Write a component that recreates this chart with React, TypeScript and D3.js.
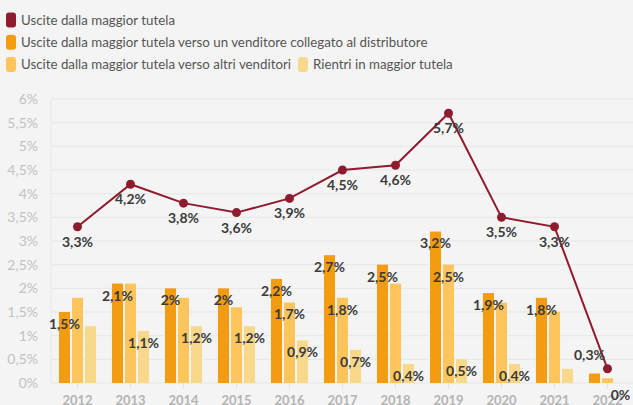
import { useEffect, useRef } from 'react';
import * as d3 from 'd3';

const WIDTH = 633;
const HEIGHT = 405;

const years = ['2012', '2013', '2014', '2015', '2016', '2017', '2018', '2019', '2020', '2021', '2022'];
const usciteTotali = [3.3, 4.2, 3.8, 3.6, 3.9, 4.5, 4.6, 5.7, 3.5, 3.3, 0.3];
const usciteCollegato = [1.5, 2.1, 2.0, 2.0, 2.2, 2.7, 2.5, 3.2, 1.9, 1.8, 0.2];
const usciteAltri = [1.8, 2.1, 1.8, 1.6, 1.7, 1.8, 2.1, 2.5, 1.7, 1.5, 0.1];
const rientri = [1.2, 1.1, 1.2, 1.2, 0.9, 0.7, 0.4, 0.5, 0.4, 0.3, 0];

// which bar values carry a visible label in the original
const labelCollegato = ['2012', '2013', '2014', '2015', '2016', '2017', '2018', '2019', '2020', '2021'];
const labelAltri = ['2016', '2017', '2019'];
const labelRientri = ['2013', '2014', '2015', '2016', '2017', '2018', '2019', '2020', '2022'];

const yTicks = [0, 0.5, 1, 1.5, 2, 2.5, 3, 3.5, 4, 4.5, 5, 5.5, 6];

const legendRows = [
  [{ name: 'Uscite dalla maggior tutela', color: '#8e1c2e' }],
  [{ name: 'Uscite dalla maggior tutela verso un venditore collegato al distributore', color: '#f39c12' }],
  [
    { name: 'Uscite dalla maggior tutela verso altri venditori', color: '#fdc55c' },
    { name: 'Rientri in maggior tutela', color: '#f8d98c' },
  ],
];

const barSeries = [
  { key: 'collegato', values: usciteCollegato, color: '#f39c12', labels: labelCollegato },
  { key: 'altri', values: usciteAltri, color: '#fdc55c', labels: labelAltri },
  { key: 'rientri', values: rientri, color: '#f8d98c', labels: labelRientri },
];

const fmt = (v: number) => `${String(v).replace('.', ',')}%`;

export default function App() {
  const svgRef = useRef<SVGSVGElement>(null);

  useEffect(() => {
    if (!svgRef.current) return;
    const svg = d3.select(svgRef.current);
    svg.selectAll('*').remove();

    const font = "'Lato', sans-serif";

    svg.append('rect').attr('width', WIDTH).attr('height', HEIGHT).attr('fill', '#f4f4f4');

    // legend
    const legend = svg.append('g');
    legendRows.forEach((row, r) => {
      const cy = 20 + r * 22.2;
      let x = 6;
      row.forEach(item => {
        legend.append('rect')
          .attr('x', x).attr('y', cy - 7.5)
          .attr('width', 10).attr('height', 15)
          .attr('rx', 3)
          .attr('fill', item.color);
        const t = legend.append('text')
          .attr('x', x + 15).attr('y', cy)
          .attr('dy', '0.35em')
          .attr('font-family', font)
          .attr('font-size', 13.3)
          .attr('fill', '#555')
          .text(item.name);
        const w = (t.node() as SVGTextElement).getComputedTextLength();
        x = x + 15 + w + 7;
      });
    });

    const x0 = d3.scaleBand<string>().domain(years).range([51, 634]).paddingInner(0.3).paddingOuter(0.15);
    const x1 = d3.scaleBand<string>().domain(barSeries.map(s => s.key)).range([0, x0.bandwidth()]).paddingInner(0.15);
    const y = d3.scaleLinear().domain([0, 6]).range([383, 99]);
    const cx = (yr: string) => (x0(yr) ?? 0) + x0.bandwidth() / 2;

    // grid
    const grid = svg.append('g');
    grid.selectAll('line')
      .data(yTicks)
      .enter()
      .append('line')
      .attr('x1', 51).attr('x2', WIDTH)
      .attr('y1', d => y(d)).attr('y2', d => y(d))
      .attr('stroke', '#e6e6e6')
      .attr('stroke-width', 1);
    grid.append('line')
      .attr('x1', 51).attr('x2', 51)
      .attr('y1', y(6)).attr('y2', y(0))
      .attr('stroke', '#e6e6e6');
    grid.selectAll('.tick')
      .data(years)
      .enter()
      .append('line')
      .attr('x1', d => cx(d)).attr('x2', d => cx(d))
      .attr('y1', y(0)).attr('y2', y(0) + 6)
      .attr('stroke', '#e2e2e2');

    // y labels
    svg.append('g')
      .selectAll('text')
      .data(yTicks)
      .enter()
      .append('text')
      .attr('x', 38)
      .attr('y', d => y(d))
      .attr('dy', '0.35em')
      .attr('text-anchor', 'end')
      .attr('font-family', font)
      .attr('font-size', 14)
      .attr('fill', '#c2c2c2')
      .text(d => fmt(d));

    // x labels
    svg.append('g')
      .selectAll('text')
      .data(years)
      .enter()
      .append('text')
      .attr('x', d => cx(d))
      .attr('y', 400)
      .attr('dy', '0.35em')
      .attr('text-anchor', 'middle')
      .attr('font-family', font)
      .attr('font-weight', 'bold')
      .attr('font-size', 13)
      .attr('fill', '#b3b3b3')
      .text(d => d);

    // bars
    barSeries.forEach(s => {
      svg.append('g')
        .selectAll('rect')
        .data(years)
        .enter()
        .append('rect')
        .attr('x', (d) => (x0(d) ?? 0) + (x1(s.key) ?? 0))
        .attr('width', x1.bandwidth())
        .attr('y', (_, i) => y(s.values[i]))
        .attr('height', (_, i) => y(0) - y(s.values[i]))
        .attr('fill', s.color);
    });

    // bar labels
    barSeries.forEach(s => {
      svg.append('g')
        .selectAll('text')
        .data(years.filter(yr => s.labels.includes(yr)))
        .enter()
        .append('text')
        .attr('x', d => (x0(d) ?? 0) + (x1(s.key) ?? 0) + x1.bandwidth() / 2)
        .attr('y', d => y(s.values[years.indexOf(d)]) + 12)
        .attr('dy', '0.35em')
        .attr('text-anchor', 'middle')
        .attr('font-family', font)
        .attr('font-weight', 'bold')
        .attr('font-size', 14)
        .attr('fill', '#3a3a3a')
        .text(d => fmt(s.values[years.indexOf(d)]));
    });

    // line
    const line = d3.line<number>()
      .x((_, i) => cx(years[i]))
      .y(d => y(d));

    svg.append('path')
      .datum(usciteTotali)
      .attr('d', line)
      .attr('fill', 'none')
      .attr('stroke', '#8e1c2e')
      .attr('stroke-width', 2);

    svg.append('g')
      .selectAll('circle')
      .data(usciteTotali)
      .enter()
      .append('circle')
      .attr('cx', (_, i) => cx(years[i]))
      .attr('cy', d => y(d))
      .attr('r', 4.5)
      .attr('fill', '#8e1c2e');

    const last = usciteTotali.length - 1;
    svg.append('g')
      .selectAll('text')
      .data(usciteTotali)
      .enter()
      .append('text')
      .attr('x', (_, i) => cx(years[i]) + (i === last ? -18 : 0))
      .attr('y', (d, i) => y(d) + (i === last ? -14 : 15))
      .attr('dy', '0.35em')
      .attr('text-anchor', 'middle')
      .attr('font-family', font)
      .attr('font-weight', 'bold')
      .attr('font-size', 14)
      .attr('fill', '#3a3a3a')
      .text(d => fmt(d));
  }, []);

  return (
    <div style={{ position: 'fixed', left: 0, top: 0, width: WIDTH, height: HEIGHT, overflow: 'hidden' }}>
      <svg ref={svgRef} width={WIDTH} height={HEIGHT} style={{ display: 'block' }} />
    </div>
  );
}
